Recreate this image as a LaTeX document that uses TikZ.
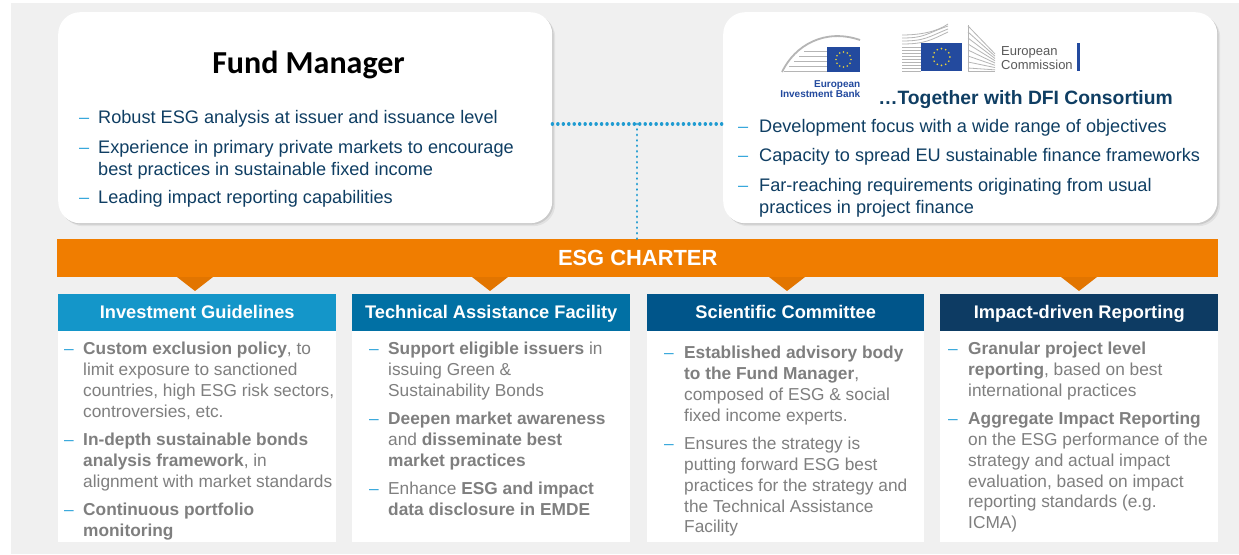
\documentclass[tikz,border=0pt]{standalone}
\usepackage{fontspec}
\setmainfont{Liberation Sans}
\newfontfamily\carl{Carlito}
\definecolor{bgc}{HTML}{F0F0F0}
\definecolor{navy}{HTML}{0F3E63}
\definecolor{dashc}{HTML}{38A8DC}
\definecolor{orangec}{HTML}{F07D00}
\definecolor{orangd}{HTML}{E27500}
\definecolor{hA}{HTML}{1496C9}
\definecolor{hB}{HTML}{0170A4}
\definecolor{hC}{HTML}{00558A}
\definecolor{hD}{HTML}{0D3B63}
\definecolor{grayt}{HTML}{7F7F7F}
\definecolor{dotc}{HTML}{1F9BD1}
\definecolor{euB}{HTML}{234A9E}
\definecolor{euY}{HTML}{EBD43A}
\definecolor{logoG}{HTML}{B5B5B5}
\tikzset{
 card/.style={fill=white,rounded corners=22pt,anchor=north west,inner sep=0,
   preaction={fill=black,opacity=.06,transform canvas={xshift=3pt,yshift=-3pt}},
   preaction={fill=black,opacity=.10,transform canvas={xshift=1.5pt,yshift=-1.5pt}}},
 box/.style={anchor=north west,inner sep=0,minimum width=#1},
 head/.style={box=278pt,minimum height=37pt,text=white,text height=13pt,text depth=2pt,font=\fontsize{18.25}{21}\selectfont\bfseries},
 body/.style={box=278pt,minimum height=211pt,fill=white},
 txt/.style={anchor=north west,inner sep=0,align=left},
 navyt/.style={txt,text=navy,font=\fontsize{18.15}{22}\selectfont},
 grayb/.style={txt,text=grayt,font=\fontsize{17.3}{20.8}\selectfont},
 dotline/.style={draw=dotc,line cap=round,dash pattern=on 0.01pt off 5.45pt},
 tip/.style={fill=orangd},
 lgline/.style={draw=logoG,line width=.8pt}
}
% name, dash x, text x, top y, style, text
\newcommand{\bitem}[6]{%
 \node[#5,text=dashc] (#1d) at (#2,#4) {\strut –};
 \node[#5] (#1) at (#3,#4) {\strut #6};}
\newcommand{\euflag}[4]{% x, y, w, h
 \fill[euB] (#1,#2) rectangle ++(#3,#4);
 \foreach \a in {0,30,...,330}
   \fill[euY] ({#1+#3/2+#4*.3*cos(\a)},{#2+#4/2+#4*.3*sin(\a)}) circle (.95pt);}
\begin{document}
\begin{tikzpicture}[x=1pt,y=-1pt]
\useasboundingbox (0,0) rectangle (1239,554);
\fill[white] (0,0) rectangle (1239,554);
\fill[bgc] (11,3) rectangle (1239,554);

% top cards
\node[card,minimum width=494pt,minimum height=211pt] (fm) at (58,12) {};
\node[card,minimum width=494pt,minimum height=211pt] (dfi) at (723,12) {};

% connectors
\coordinate (junc) at (637,124);
\node[anchor=north west,inner sep=0,minimum width=1161pt,minimum height=38pt,fill=orangec,text=white,font=\fontsize{21.9}{25}\selectfont\bfseries] (bar) at (57,239) {ESG CHARTER};
\draw[dotline,line width=3.5pt] (fm.east |- junc) -- (dfi.west |- junc);
\draw[dotline,line width=2.9pt] (junc) -- (bar.north -| junc);

% Fund manager
\node[anchor=base,inner sep=0,font=\carl\fontsize{32}{36}\selectfont\bfseries,text=black] (fmt) at (308.500,73) {Fund Manager};
\bitem{fa}{79}{98}{108}{navyt}{Robust ESG analysis at issuer and issuance level}
\bitem{fb}{79}{98}{138}{navyt}{Experience in primary private markets to encourage\\best practices in sustainable fixed income}
\bitem{fc}{79}{98}{188}{navyt}{Leading impact reporting capabilities}

% DFI
\node[anchor=base,inner sep=0,font=\fontsize{19.3}{22}\selectfont\bfseries,text=navy] (dfit) at (1025.500,104) {…Together with DFI Consortium};
\bitem{da}{738}{759}{117}{navyt}{Development focus with a wide range of objectives}
\bitem{db}{738}{759}{146}{navyt}{Capacity to spread EU sustainable finance frameworks}
\bitem{dc}{738}{759}{176}{navyt}{Far-reaching requirements originating from usual\\practices in project finance}

% EIB logo
\draw[logoG,line width=1.8pt] (782,72) .. controls (795,45) and (825,28) .. (860,40);
\foreach \yy in {51,56,61,66,71}
  \draw[lgline] ({782+(71-\yy)*1.0+2},\yy) -- (827,\yy);
\euflag{827}{47}{33}{25}
\node[anchor=north east,inner sep=0,align=right,text=euB,font=\fontsize{10}{10.5}\selectfont\bfseries] (eibt) at (860.500,80) {European\\Investment Bank};

% EC logo
\foreach \yy in {47,50,...,71}
  \draw[lgline] (902,\yy) -- (921,\yy);
\foreach \yy in {38,41,44}
  \draw[lgline] (902,\yy) .. controls (925,\yy) and ({925+(\yy-38)},{\yy-4}) .. (948,{\yy-12});
\draw[lgline] (902,35) .. controls (922,35) and (938,31) .. (948,24);
\foreach \yy in {26,32,38,44,50,56,62,68}
  \draw[lgline] (968,\yy) -- (995,{\yy+(71-\yy)*.62});
\draw[lgline] (968,25) -- (968,71) -- (995,71);
\euflag{921}{43}{41}{28}
\node[anchor=north west,inner sep=0,align=left,text=black!65,font=\fontsize{13}{14.5}\selectfont] (ect) at (1001,46) {European\\Commission};
\fill[euB] (1077,43) rectangle (1080,71);

% triangles
\foreach \n/\xc in {a/195,b/490,c/787,d/1079}
  \fill[tip] (\xc-18,277) -- (\xc+18,277) -- (\xc,291) -- cycle;

% columns
\node[body] (ba) at (58,331) {};
\node[body] (bb) at (352,331) {};
\node[body,minimum width=277pt] (bc) at (647,331) {};
\node[body] (bd) at (940,331) {};
\node[head,fill=hA] (ha) at (58,294) {Investment Guidelines};
\node[head,fill=hB] (hb) at (352,294) {Technical Assistance Facility};
\node[head,fill=hC,minimum width=277pt] (hc) at (647,294) {Scientific Committee};
\node[head,fill=hD] (hd) at (940,294) {Impact-driven Reporting};

\bitem{aa}{64}{83}{340}{grayb}{\textbf{Custom exclusion policy}, to\\limit exposure to sanctioned\\countries, high ESG risk sectors,\\controversies, etc.}
\bitem{ab}{64}{83}{431}{grayb}{\textbf{In-depth sustainable bonds}\\\textbf{analysis framework}, in\\alignment with market standards}
\bitem{ac}{64}{83}{501}{grayb}{\textbf{Continuous portfolio}\\\textbf{monitoring}}

\bitem{ca}{369}{388}{340}{grayb}{\textbf{Support eligible issuers} in\\issuing Green \&\\Sustainability Bonds}
\bitem{cb}{369}{388}{410}{grayb}{\textbf{Deepen market awareness}\\and \textbf{disseminate best}\\\textbf{market practices}}
\bitem{cc}{369}{388}{480}{grayb}{Enhance \textbf{ESG and impact}\\\textbf{data disclosure in EMDE}}

\bitem{ea}{664}{684}{344}{grayb}{\textbf{Established advisory body}\\\textbf{to the Fund Manager},\\composed of ESG \& social\\fixed income experts.}
\bitem{eb}{664}{684}{435}{grayb}{Ensures the strategy is\\putting forward ESG best\\practices for the strategy and\\the Technical Assistance\\Facility}

\bitem{ga}{948}{968}{340}{grayb}{\textbf{Granular project level}\\\textbf{reporting}, based on best\\international practices}
\bitem{gb}{948}{968}{410}{grayb}{\textbf{Aggregate Impact Reporting}\\on the ESG performance of the\\strategy and actual impact\\evaluation, based on impact\\reporting standards (e.g.\\ICMA)}
\end{tikzpicture}
\end{document}
